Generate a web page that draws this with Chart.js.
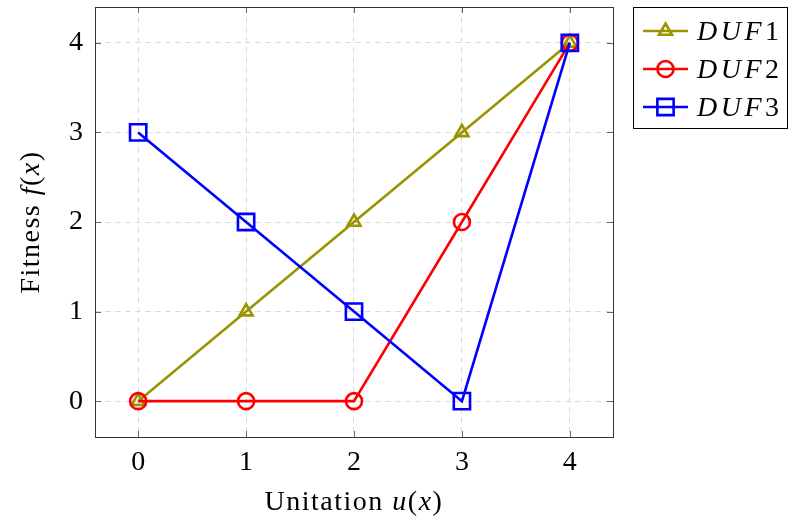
<!DOCTYPE html>
<html>
<head>
<meta charset="utf-8">
<script src="https://cdn.jsdelivr.net/npm/chart.js@4.4.1/dist/chart.umd.min.js"></script>
<style>
  html, body { margin: 0; padding: 0; background: #fff; }
  #wrap { width: 789px; height: 523px; position: relative; }
</style>
</head>
<body>
<div id="wrap"><canvas id="c" width="789" height="523"></canvas></div>
<script>
// data
var unitation = [0, 1, 2, 3, 4];
var duf1 = [0, 1, 2, 3, 4];
var duf2 = [0, 0, 0, 2, 4];
var duf3 = [3, 2, 1, 0, 4];
var tickVals = [0, 1, 2, 3, 4];
var serieNames = ['DUF1', 'DUF2', 'DUF3'];

var colors = ['rgb(153,148,0)', 'rgb(255,0,0)', 'rgb(0,0,255)'];
var marks = ['triangle', 'circle', 'rect'];
var markSize = [7.5, 8, 11.5];
var fontName = '"Liberation Serif", "Times New Roman", serif';
var fs = 28;

function pts(arr) {
  var out = [];
  for (var i = 0; i < arr.length; i++) { out.push({x: unitation[i], y: arr[i]}); }
  return out;
}

function makeSet(i, arr) {
  return {
    label: serieNames[i],
    data: pts(arr),
    borderColor: colors[i],
    backgroundColor: 'rgba(0,0,0,0)',
    borderWidth: 2.6,
    pointStyle: marks[i],
    pointRadius: markSize[i],
    pointBorderWidth: 2.6,
    pointBorderColor: colors[i],
    pointBackgroundColor: 'rgba(0,0,0,0)',
    fill: false,
    tension: 0,
    order: 3 - i
  };
}

// draws pieces of text, some italic
function drawParts(ctx, parts, x, y, align, spacing) {
  var w = 0, i;
  ctx.letterSpacing = (spacing || 0) + 'px';
  for (i = 0; i < parts.length; i++) {
    ctx.font = (parts[i][1] ? 'italic ' : '') + fs + 'px ' + fontName;
    w += ctx.measureText(parts[i][0]).width;
  }
  var sx = align == 'center' ? x - w / 2 : x;
  ctx.textAlign = 'left';
  for (i = 0; i < parts.length; i++) {
    ctx.font = (parts[i][1] ? 'italic ' : '') + fs + 'px ' + fontName;
    ctx.fillText(parts[i][0], sx, y);
    sx += ctx.measureText(parts[i][0]).width;
  }
  ctx.letterSpacing = '0px';
}

function drawMark(ctx, i, x, y) {
  ctx.save();
  ctx.strokeStyle = colors[i];
  ctx.fillStyle = 'rgba(0,0,0,0)';
  ctx.lineWidth = 2.6;
  Chart.helpers.drawPoint(ctx, {pointStyle: marks[i], radius: markSize[i], rotation: 0, borderWidth: 2.6}, x, y);
  ctx.restore();
}

var extras = {
  id: 'extras',
  afterDraw: function(chart) {
    var ctx = chart.ctx;
    var a = chart.chartArea;
    var xs = chart.scales.x, ys = chart.scales.y;
    ctx.save();
    // inner ticks on all four sides
    ctx.strokeStyle = '#666';
    ctx.lineWidth = 1;
    ctx.beginPath();
    tickVals.forEach(function(v) {
      var px = Math.round(xs.getPixelForValue(v)) + 0.5;
      var py = Math.round(ys.getPixelForValue(v)) + 0.5;
      ctx.moveTo(px, a.bottom); ctx.lineTo(px, a.bottom - 6);
      ctx.moveTo(px, a.top); ctx.lineTo(px, a.top + 6);
      ctx.moveTo(a.left, py); ctx.lineTo(a.left + 6, py);
      ctx.moveTo(a.right, py); ctx.lineTo(a.right - 6, py);
    });
    ctx.stroke();
    // frame
    ctx.strokeStyle = '#333';
    ctx.strokeRect(Math.round(a.left) + 0.5, Math.round(a.top) + 0.5, Math.round(a.right - a.left), Math.round(a.bottom - a.top));

    // axis titles
    ctx.fillStyle = '#000';
    ctx.textBaseline = 'alphabetic';
    drawParts(ctx, [['Unitation ', false], ['u', true], ['(', false], ['x', true], [')', false]], (a.left + a.right) / 2, 510, 'center', 1.5);
    ctx.save();
    ctx.translate(39, (a.top + a.bottom) / 2);
    ctx.rotate(-Math.PI / 2);
    drawParts(ctx, [['Fitness ', false], ['f', true], ['(', false], ['x', true], [')', false]], 0, 0, 'center', 1.5);
    ctx.restore();

    // legend box
    ctx.strokeStyle = '#000';
    ctx.lineWidth = 1;
    ctx.strokeRect(633.5, 7.5, 154, 121);
    var rows = [31, 69, 107];
    for (var i = 0; i < serieNames.length; i++) {
      ctx.strokeStyle = colors[i];
      ctx.lineWidth = 2.6;
      ctx.beginPath();
      ctx.moveTo(643, rows[i]); ctx.lineTo(688, rows[i]);
      ctx.stroke();
      drawMark(ctx, i, 665.5, rows[i]);
      ctx.fillStyle = '#000';
      drawParts(ctx, [['DUF', true], [serieNames[i].substring(3), false]], 697, rows[i] + 9, 'left', 3.5);
    }
    ctx.restore();
  }
};

new Chart(document.getElementById('c'), {
  type: 'line',
  data: { datasets: [makeSet(0, duf1), makeSet(1, duf2), makeSet(2, duf3)] },
  options: {
    responsive: false,
    animation: false,
    layout: { autoPadding: false, padding: { top: 7, right: 176, left: 0, bottom: 0 } },
    plugins: { legend: { display: false }, tooltip: { enabled: false } },
    scales: {
      x: {
        type: 'linear', min: -0.4, max: 4.4,
        afterBuildTicks: function(s) { s.ticks = tickVals.map(function(v) { return {value: v}; }); },
        afterFit: function(s) { s.height = 86; s.paddingLeft = 0; s.paddingRight = 0; },
        grid: { color: '#dcdcdc', drawTicks: false },
        border: { display: false, dash: [6, 4] },
        ticks: { color: '#000', padding: 9, font: { family: fontName, size: fs }, maxRotation: 0 }
      },
      y: {
        type: 'linear', min: -0.4, max: 4.4,
        afterBuildTicks: function(s) { s.ticks = tickVals.map(function(v) { return {value: v}; }); },
        afterFit: function(s) { s.width = 95; s.paddingTop = 0; s.paddingBottom = 0; },
        grid: { color: '#dcdcdc', drawTicks: false },
        border: { display: false, dash: [6, 4] },
        ticks: { color: '#000', padding: 12, font: { family: fontName, size: fs } }
      }
    }
  },
  plugins: [extras]
});
</script>
</body>
</html>
